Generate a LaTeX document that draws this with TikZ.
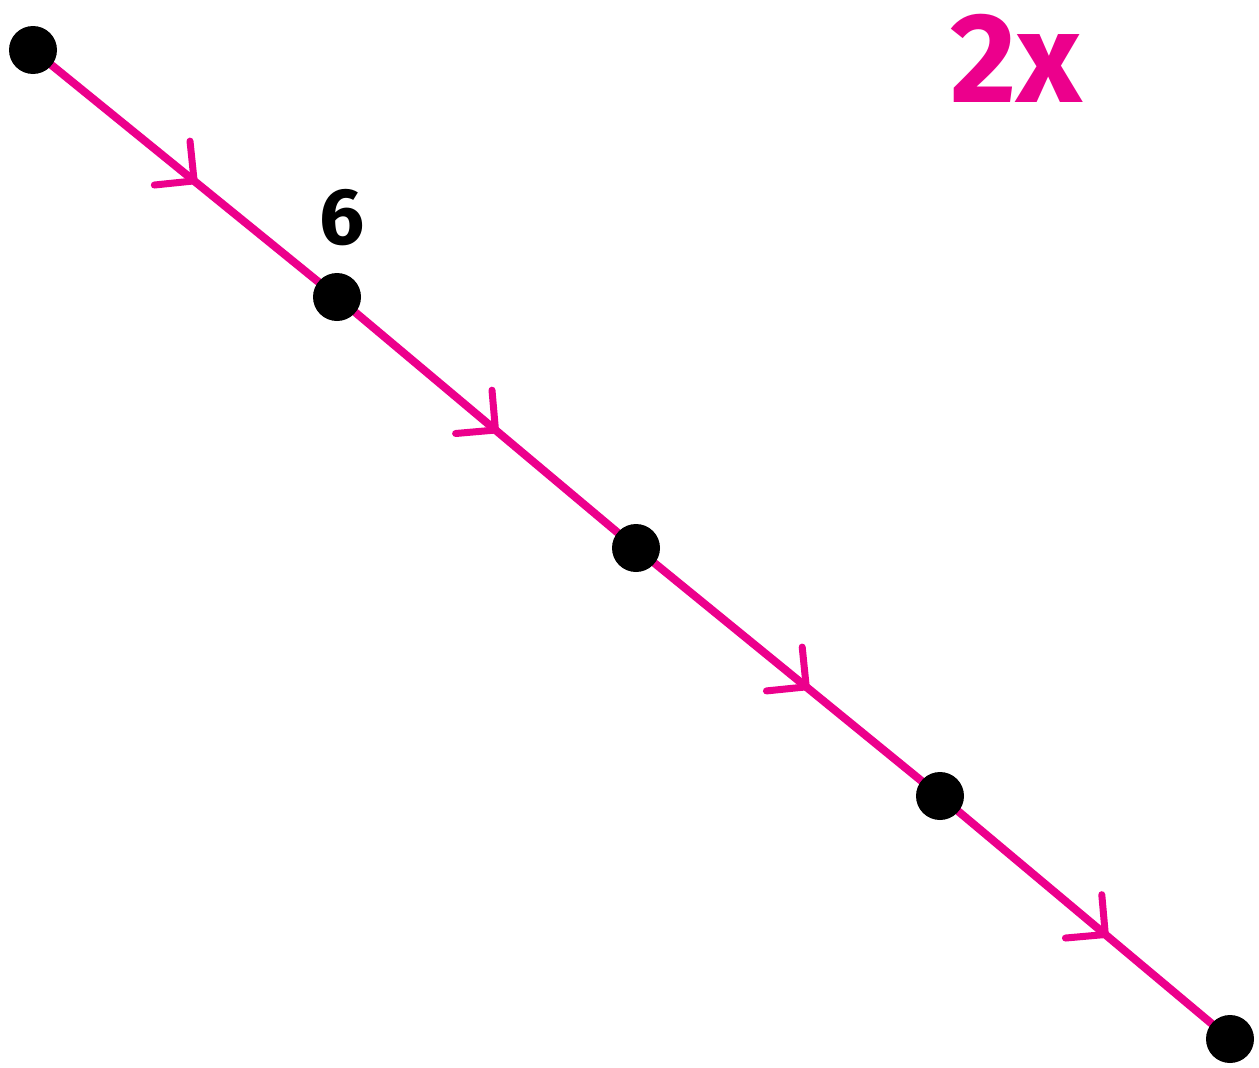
\documentclass[tikz,border=0pt]{standalone}
\usepackage{fontspec}
\setmainfont{Fira Sans}
\usetikzlibrary{calc}
\definecolor{mag}{HTML}{EC008C}
\begin{document}
\begin{tikzpicture}[x=1pt,y=-1pt,
  seg/.style={draw=mag,line width=8pt,line cap=round},
  chev/.style={draw=mag,line width=7pt,line cap=round,line join=round},
  dot/.style={circle,fill=black,minimum size=48pt,inner sep=0pt}]
\useasboundingbox (0,0) rectangle (1259,1068);
\coordinate (p1) at (33,50);
\coordinate (p2) at (337,297);
\coordinate (p3) at (636,548);
\coordinate (p4) at (940,796);
\coordinate (p5) at (1230,1039);
\draw[seg] (p1) -- (p2) -- (p3) -- (p4) -- (p5);
\foreach \a/\b/\f [count=\i] in {p1/p2/0.53,p2/p3/0.53,p3/p4/0.56,p4/p5/0.57}{
  \coordinate (t\i) at ($(\a)!\f!(\b)$);
  \draw[chev] ($(t\i)!40pt!45:(\a)$) -- (t\i) -- ($(t\i)!40pt!-45:(\a)$);
}
\foreach \i in {1,...,5}{\node[dot] (d\i) at (p\i) {};}
\node[font=\fontsize{80}{80}\selectfont\bfseries,text=black] (six) at (342,218) {6};
\node[font=\fontsize{128}{128}\selectfont\bfseries,text=mag] (twox) at (1016,58) {2x};
\end{tikzpicture}
\end{document}
